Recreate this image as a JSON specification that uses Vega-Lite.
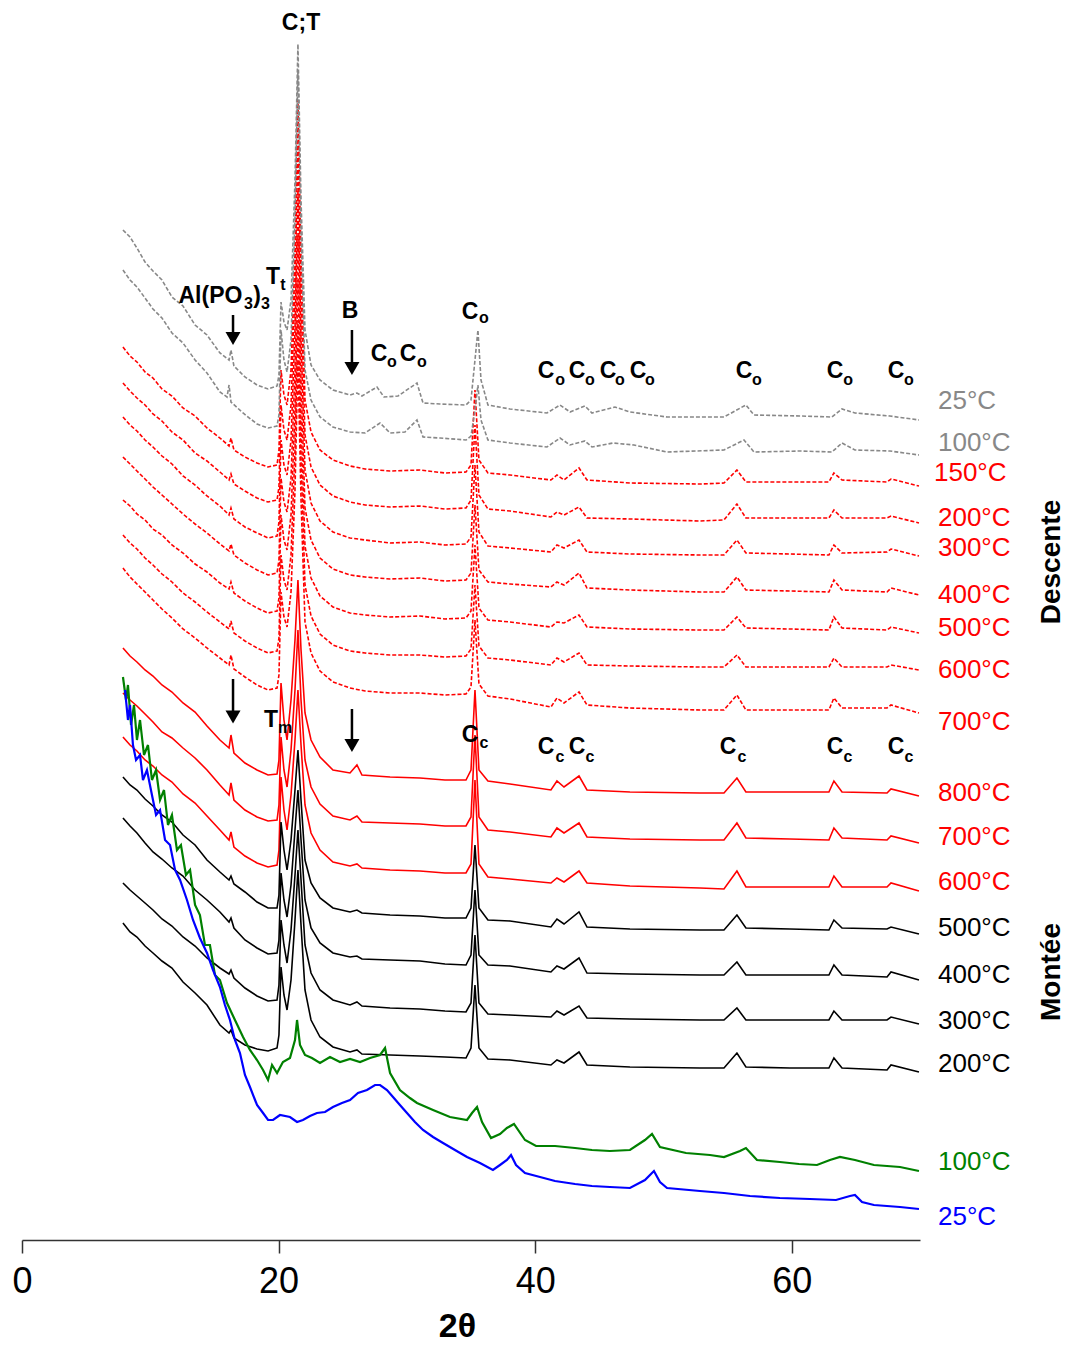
{
"$schema":"https://vega.github.io/schema/vega-lite/v6.json",
"width":898,"height":1240,
"autosize":{"type":"none"},
"padding":{"left":22,"top":0,"right":145,"bottom":107},
"config":{"view":{"stroke":null},"font":"Liberation Sans"},
"datasets":{
"curves":[
{"s":"D700","x":7.87,"y":672},{"s":"D700","x":8.42,"y":663},{"s":"D700","x":8.96,"y":656},{"s":"D700","x":9.59,"y":648},{"s":"D700","x":10.21,"y":640},{"s":"D700","x":10.91,"y":631},{"s":"D700","x":11.69,"y":622},{"s":"D700","x":12.55,"y":611},{"s":"D700","x":13.49,"y":602},{"s":"D700","x":14.42,"y":592},{"s":"D700","x":15.43,"y":582},{"s":"D700","x":16.14,"y":575},{"s":"D700","x":16.29,"y":585},{"s":"D700","x":16.52,"y":571},{"s":"D700","x":17.38,"y":563},{"s":"D700","x":18.32,"y":555},{"s":"D700","x":19.18,"y":550},{"s":"D700","x":19.88,"y":552},{"s":"D700","x":20.03,"y":565},{"s":"D700","x":20.19,"y":648},{"s":"D700","x":20.42,"y":623},{"s":"D700","x":20.66,"y":613},{"s":"D700","x":20.97,"y":648},{"s":"D700","x":21.28,"y":750},{"s":"D700","x":21.51,"y":880},{"s":"D700","x":21.75,"y":740},{"s":"D700","x":22.06,"y":618},{"s":"D700","x":22.53,"y":587},{"s":"D700","x":23.23,"y":569},{"s":"D700","x":24.24,"y":558},{"s":"D700","x":25.57,"y":552},{"s":"D700","x":26.74,"y":549},{"s":"D700","x":28.69,"y":547},{"s":"D700","x":31.02,"y":547},{"s":"D700","x":32.97,"y":545},{"s":"D700","x":34.61,"y":546},{"s":"D700","x":35.0,"y":553},{"s":"D700","x":35.31,"y":620},{"s":"D700","x":35.62,"y":556},{"s":"D700","x":36.32,"y":544},{"s":"D700","x":38.04,"y":541},{"s":"D700","x":41.23,"y":533},{"s":"D700","x":41.7,"y":542},{"s":"D700","x":42.25,"y":537},{"s":"D700","x":43.42,"y":548},{"s":"D700","x":44.04,"y":535},{"s":"D700","x":47.39,"y":532},{"s":"D700","x":52.85,"y":530},{"s":"D700","x":54.72,"y":530},{"s":"D700","x":55.73,"y":545},{"s":"D700","x":56.43,"y":530},{"s":"D700","x":59.86,"y":530},{"s":"D700","x":62.9,"y":530},{"s":"D700","x":63.29,"y":542},{"s":"D700","x":63.92,"y":532},{"s":"D700","x":67.43,"y":532},{"s":"D700","x":67.74,"y":535},{"s":"D700","x":69.92,"y":527},
{"s":"D600","x":7.87,"y":705},{"s":"D600","x":8.42,"y":697},{"s":"D600","x":8.96,"y":691},{"s":"D600","x":9.59,"y":682},{"s":"D600","x":10.21,"y":675},{"s":"D600","x":10.91,"y":666},{"s":"D600","x":11.69,"y":658},{"s":"D600","x":12.55,"y":647},{"s":"D600","x":13.49,"y":638},{"s":"D600","x":14.42,"y":628},{"s":"D600","x":15.43,"y":618},{"s":"D600","x":16.14,"y":611},{"s":"D600","x":16.29,"y":619},{"s":"D600","x":16.52,"y":607},{"s":"D600","x":17.38,"y":599},{"s":"D600","x":18.32,"y":592},{"s":"D600","x":19.18,"y":587},{"s":"D600","x":19.88,"y":589},{"s":"D600","x":20.03,"y":602},{"s":"D600","x":20.19,"y":685},{"s":"D600","x":20.42,"y":660},{"s":"D600","x":20.66,"y":650},{"s":"D600","x":20.97,"y":685},{"s":"D600","x":21.28,"y":790},{"s":"D600","x":21.51,"y":920},{"s":"D600","x":21.75,"y":780},{"s":"D600","x":22.06,"y":655},{"s":"D600","x":22.53,"y":624},{"s":"D600","x":23.23,"y":606},{"s":"D600","x":24.24,"y":595},{"s":"D600","x":25.57,"y":589},{"s":"D600","x":26.74,"y":587},{"s":"D600","x":28.69,"y":585},{"s":"D600","x":31.02,"y":585},{"s":"D600","x":32.97,"y":583},{"s":"D600","x":34.61,"y":584},{"s":"D600","x":35.0,"y":591},{"s":"D600","x":35.31,"y":655},{"s":"D600","x":35.62,"y":594},{"s":"D600","x":36.32,"y":582},{"s":"D600","x":38.04,"y":580},{"s":"D600","x":41.23,"y":575},{"s":"D600","x":41.7,"y":582},{"s":"D600","x":42.25,"y":578},{"s":"D600","x":43.42,"y":587},{"s":"D600","x":44.04,"y":575},{"s":"D600","x":47.39,"y":574},{"s":"D600","x":52.85,"y":573},{"s":"D600","x":54.72,"y":573},{"s":"D600","x":55.73,"y":585},{"s":"D600","x":56.43,"y":573},{"s":"D600","x":59.86,"y":573},{"s":"D600","x":62.9,"y":573},{"s":"D600","x":63.29,"y":582},{"s":"D600","x":63.92,"y":573},{"s":"D600","x":67.43,"y":573},{"s":"D600","x":67.74,"y":575},{"s":"D600","x":69.92,"y":570},
{"s":"D500","x":7.87,"y":740},{"s":"D500","x":8.42,"y":734},{"s":"D500","x":8.96,"y":726},{"s":"D500","x":9.59,"y":720},{"s":"D500","x":10.21,"y":711},{"s":"D500","x":10.91,"y":705},{"s":"D500","x":11.69,"y":695},{"s":"D500","x":12.55,"y":687},{"s":"D500","x":13.49,"y":676},{"s":"D500","x":14.42,"y":668},{"s":"D500","x":15.43,"y":657},{"s":"D500","x":16.14,"y":651},{"s":"D500","x":16.29,"y":658},{"s":"D500","x":16.52,"y":647},{"s":"D500","x":17.38,"y":639},{"s":"D500","x":18.32,"y":632},{"s":"D500","x":19.18,"y":627},{"s":"D500","x":19.88,"y":629},{"s":"D500","x":20.03,"y":642},{"s":"D500","x":20.19,"y":725},{"s":"D500","x":20.42,"y":700},{"s":"D500","x":20.66,"y":690},{"s":"D500","x":20.97,"y":725},{"s":"D500","x":21.28,"y":830},{"s":"D500","x":21.51,"y":960},{"s":"D500","x":21.75,"y":820},{"s":"D500","x":22.06,"y":694},{"s":"D500","x":22.53,"y":662},{"s":"D500","x":23.23,"y":644},{"s":"D500","x":24.24,"y":633},{"s":"D500","x":25.57,"y":627},{"s":"D500","x":26.74,"y":625},{"s":"D500","x":28.69,"y":623},{"s":"D500","x":31.02,"y":624},{"s":"D500","x":32.97,"y":621},{"s":"D500","x":34.61,"y":622},{"s":"D500","x":35.0,"y":629},{"s":"D500","x":35.31,"y":695},{"s":"D500","x":35.62,"y":632},{"s":"D500","x":36.32,"y":620},{"s":"D500","x":38.04,"y":618},{"s":"D500","x":41.23,"y":613},{"s":"D500","x":41.7,"y":618},{"s":"D500","x":42.25,"y":617},{"s":"D500","x":43.42,"y":625},{"s":"D500","x":44.04,"y":613},{"s":"D500","x":47.39,"y":611},{"s":"D500","x":52.85,"y":610},{"s":"D500","x":54.72,"y":610},{"s":"D500","x":55.73,"y":623},{"s":"D500","x":56.43,"y":612},{"s":"D500","x":59.86,"y":611},{"s":"D500","x":62.9,"y":610},{"s":"D500","x":63.29,"y":623},{"s":"D500","x":63.92,"y":612},{"s":"D500","x":67.43,"y":610},{"s":"D500","x":67.74,"y":613},{"s":"D500","x":69.92,"y":607},
{"s":"D400","x":7.87,"y":783},{"s":"D400","x":8.42,"y":776},{"s":"D400","x":8.96,"y":769},{"s":"D400","x":9.59,"y":761},{"s":"D400","x":10.21,"y":753},{"s":"D400","x":10.91,"y":745},{"s":"D400","x":11.69,"y":736},{"s":"D400","x":12.55,"y":726},{"s":"D400","x":13.49,"y":716},{"s":"D400","x":14.42,"y":707},{"s":"D400","x":15.43,"y":696},{"s":"D400","x":16.14,"y":689},{"s":"D400","x":16.29,"y":696},{"s":"D400","x":16.52,"y":685},{"s":"D400","x":17.38,"y":677},{"s":"D400","x":18.32,"y":670},{"s":"D400","x":19.18,"y":665},{"s":"D400","x":19.88,"y":667},{"s":"D400","x":20.03,"y":680},{"s":"D400","x":20.19,"y":762},{"s":"D400","x":20.42,"y":738},{"s":"D400","x":20.66,"y":728},{"s":"D400","x":20.97,"y":762},{"s":"D400","x":21.28,"y":870},{"s":"D400","x":21.51,"y":1005},{"s":"D400","x":21.75,"y":860},{"s":"D400","x":22.06,"y":732},{"s":"D400","x":22.53,"y":700},{"s":"D400","x":23.23,"y":682},{"s":"D400","x":24.24,"y":671},{"s":"D400","x":25.57,"y":665},{"s":"D400","x":26.74,"y":663},{"s":"D400","x":28.69,"y":661},{"s":"D400","x":31.02,"y":662},{"s":"D400","x":32.97,"y":659},{"s":"D400","x":34.61,"y":660},{"s":"D400","x":35.0,"y":667},{"s":"D400","x":35.31,"y":735},{"s":"D400","x":35.62,"y":670},{"s":"D400","x":36.32,"y":658},{"s":"D400","x":38.04,"y":656},{"s":"D400","x":41.23,"y":653},{"s":"D400","x":41.7,"y":658},{"s":"D400","x":42.25,"y":655},{"s":"D400","x":43.42,"y":667},{"s":"D400","x":44.04,"y":652},{"s":"D400","x":47.39,"y":650},{"s":"D400","x":52.85,"y":648},{"s":"D400","x":54.72,"y":648},{"s":"D400","x":55.73,"y":663},{"s":"D400","x":56.43,"y":650},{"s":"D400","x":59.86,"y":649},{"s":"D400","x":62.9,"y":648},{"s":"D400","x":63.29,"y":660},{"s":"D400","x":63.92,"y":650},{"s":"D400","x":67.43,"y":648},{"s":"D400","x":67.74,"y":652},{"s":"D400","x":69.92,"y":645},
{"s":"D300","x":7.87,"y":823},{"s":"D300","x":8.42,"y":815},{"s":"D300","x":8.96,"y":809},{"s":"D300","x":9.59,"y":800},{"s":"D300","x":10.21,"y":793},{"s":"D300","x":10.91,"y":784},{"s":"D300","x":11.69,"y":776},{"s":"D300","x":12.55,"y":764},{"s":"D300","x":13.49,"y":755},{"s":"D300","x":14.42,"y":744},{"s":"D300","x":15.43,"y":734},{"s":"D300","x":16.14,"y":725},{"s":"D300","x":16.29,"y":732},{"s":"D300","x":16.52,"y":721},{"s":"D300","x":17.38,"y":713},{"s":"D300","x":18.32,"y":707},{"s":"D300","x":19.18,"y":702},{"s":"D300","x":19.88,"y":704},{"s":"D300","x":20.03,"y":718},{"s":"D300","x":20.19,"y":800},{"s":"D300","x":20.42,"y":775},{"s":"D300","x":20.66,"y":765},{"s":"D300","x":20.97,"y":800},{"s":"D300","x":21.28,"y":910},{"s":"D300","x":21.51,"y":1050},{"s":"D300","x":21.75,"y":900},{"s":"D300","x":22.06,"y":770},{"s":"D300","x":22.53,"y":737},{"s":"D300","x":23.23,"y":719},{"s":"D300","x":24.24,"y":708},{"s":"D300","x":25.57,"y":702},{"s":"D300","x":26.74,"y":700},{"s":"D300","x":28.69,"y":697},{"s":"D300","x":31.02,"y":698},{"s":"D300","x":32.97,"y":695},{"s":"D300","x":34.61,"y":696},{"s":"D300","x":35.0,"y":703},{"s":"D300","x":35.31,"y":775},{"s":"D300","x":35.62,"y":708},{"s":"D300","x":36.32,"y":694},{"s":"D300","x":38.04,"y":692},{"s":"D300","x":41.23,"y":688},{"s":"D300","x":41.7,"y":695},{"s":"D300","x":42.25,"y":692},{"s":"D300","x":43.42,"y":700},{"s":"D300","x":44.04,"y":688},{"s":"D300","x":47.39,"y":686},{"s":"D300","x":52.85,"y":685},{"s":"D300","x":54.72,"y":685},{"s":"D300","x":55.73,"y":700},{"s":"D300","x":56.43,"y":687},{"s":"D300","x":59.86,"y":686},{"s":"D300","x":62.9,"y":685},{"s":"D300","x":63.29,"y":695},{"s":"D300","x":63.92,"y":687},{"s":"D300","x":67.43,"y":688},{"s":"D300","x":67.74,"y":691},{"s":"D300","x":69.92,"y":684},
{"s":"D200","x":7.87,"y":857},{"s":"D200","x":8.42,"y":849},{"s":"D200","x":8.96,"y":842},{"s":"D200","x":9.59,"y":835},{"s":"D200","x":10.21,"y":826},{"s":"D200","x":10.91,"y":819},{"s":"D200","x":11.69,"y":808},{"s":"D200","x":12.55,"y":800},{"s":"D200","x":13.49,"y":787},{"s":"D200","x":14.42,"y":779},{"s":"D200","x":15.43,"y":768},{"s":"D200","x":16.14,"y":760},{"s":"D200","x":16.29,"y":766},{"s":"D200","x":16.52,"y":756},{"s":"D200","x":17.38,"y":749},{"s":"D200","x":18.32,"y":742},{"s":"D200","x":19.18,"y":738},{"s":"D200","x":19.88,"y":740},{"s":"D200","x":20.03,"y":753},{"s":"D200","x":20.19,"y":835},{"s":"D200","x":20.42,"y":810},{"s":"D200","x":20.66,"y":800},{"s":"D200","x":20.97,"y":835},{"s":"D200","x":21.28,"y":950},{"s":"D200","x":21.51,"y":1095},{"s":"D200","x":21.75,"y":940},{"s":"D200","x":22.06,"y":805},{"s":"D200","x":22.53,"y":773},{"s":"D200","x":23.23,"y":755},{"s":"D200","x":24.24,"y":744},{"s":"D200","x":25.57,"y":738},{"s":"D200","x":26.74,"y":735},{"s":"D200","x":28.69,"y":733},{"s":"D200","x":31.02,"y":734},{"s":"D200","x":32.97,"y":731},{"s":"D200","x":34.61,"y":732},{"s":"D200","x":35.0,"y":740},{"s":"D200","x":35.31,"y":815},{"s":"D200","x":35.62,"y":745},{"s":"D200","x":36.32,"y":731},{"s":"D200","x":38.04,"y":729},{"s":"D200","x":41.23,"y":723},{"s":"D200","x":41.7,"y":728},{"s":"D200","x":42.25,"y":725},{"s":"D200","x":43.42,"y":733},{"s":"D200","x":44.04,"y":722},{"s":"D200","x":47.39,"y":721},{"s":"D200","x":52.85,"y":719},{"s":"D200","x":54.72,"y":720},{"s":"D200","x":55.73,"y":736},{"s":"D200","x":56.43,"y":722},{"s":"D200","x":59.86,"y":722},{"s":"D200","x":62.9,"y":722},{"s":"D200","x":63.29,"y":730},{"s":"D200","x":63.92,"y":722},{"s":"D200","x":67.43,"y":722},{"s":"D200","x":67.74,"y":724},{"s":"D200","x":69.92,"y":717},
{"s":"D150","x":7.87,"y":893},{"s":"D150","x":8.42,"y":884},{"s":"D150","x":8.96,"y":878},{"s":"D150","x":9.59,"y":868},{"s":"D150","x":10.21,"y":862},{"s":"D150","x":10.91,"y":851},{"s":"D150","x":11.69,"y":844},{"s":"D150","x":12.55,"y":832},{"s":"D150","x":13.49,"y":824},{"s":"D150","x":14.42,"y":812},{"s":"D150","x":15.43,"y":802},{"s":"D150","x":16.14,"y":794},{"s":"D150","x":16.29,"y":802},{"s":"D150","x":16.52,"y":790},{"s":"D150","x":17.38,"y":783},{"s":"D150","x":18.32,"y":777},{"s":"D150","x":19.18,"y":773},{"s":"D150","x":19.88,"y":775},{"s":"D150","x":20.03,"y":790},{"s":"D150","x":20.19,"y":870},{"s":"D150","x":20.42,"y":845},{"s":"D150","x":20.66,"y":835},{"s":"D150","x":20.97,"y":870},{"s":"D150","x":21.28,"y":990},{"s":"D150","x":21.51,"y":1140},{"s":"D150","x":21.75,"y":980},{"s":"D150","x":22.06,"y":840},{"s":"D150","x":22.53,"y":808},{"s":"D150","x":23.23,"y":790},{"s":"D150","x":24.24,"y":780},{"s":"D150","x":25.57,"y":774},{"s":"D150","x":26.74,"y":771},{"s":"D150","x":28.69,"y":769},{"s":"D150","x":31.02,"y":770},{"s":"D150","x":32.97,"y":767},{"s":"D150","x":34.61,"y":768},{"s":"D150","x":35.0,"y":775},{"s":"D150","x":35.31,"y":850},{"s":"D150","x":35.62,"y":780},{"s":"D150","x":36.32,"y":767},{"s":"D150","x":38.04,"y":765},{"s":"D150","x":41.23,"y":760},{"s":"D150","x":41.7,"y":765},{"s":"D150","x":42.25,"y":760},{"s":"D150","x":43.42,"y":772},{"s":"D150","x":44.04,"y":760},{"s":"D150","x":47.39,"y":757},{"s":"D150","x":52.85,"y":756},{"s":"D150","x":54.72,"y":757},{"s":"D150","x":55.73,"y":770},{"s":"D150","x":56.43,"y":758},{"s":"D150","x":59.86,"y":758},{"s":"D150","x":62.9,"y":758},{"s":"D150","x":63.29,"y":767},{"s":"D150","x":63.92,"y":760},{"s":"D150","x":67.43,"y":758},{"s":"D150","x":67.74,"y":761},{"s":"D150","x":69.92,"y":754},
{"s":"D100","x":7.87,"y":970},{"s":"D100","x":8.42,"y":960},{"s":"D100","x":8.96,"y":953},{"s":"D100","x":9.59,"y":942},{"s":"D100","x":10.21,"y":931},{"s":"D100","x":10.91,"y":922},{"s":"D100","x":11.69,"y":907},{"s":"D100","x":12.55,"y":897},{"s":"D100","x":13.49,"y":880},{"s":"D100","x":14.42,"y":867},{"s":"D100","x":15.43,"y":848},{"s":"D100","x":15.98,"y":843},{"s":"D100","x":16.14,"y":855},{"s":"D100","x":16.29,"y":838},{"s":"D100","x":17.23,"y":827},{"s":"D100","x":18.32,"y":816},{"s":"D100","x":19.18,"y":812},{"s":"D100","x":19.88,"y":814},{"s":"D100","x":20.03,"y":825},{"s":"D100","x":20.19,"y":910},{"s":"D100","x":20.42,"y":880},{"s":"D100","x":20.66,"y":868},{"s":"D100","x":20.97,"y":900},{"s":"D100","x":21.28,"y":1020},{"s":"D100","x":21.51,"y":1170},{"s":"D100","x":21.75,"y":1010},{"s":"D100","x":22.06,"y":870},{"s":"D100","x":22.53,"y":840},{"s":"D100","x":23.23,"y":823},{"s":"D100","x":24.24,"y":813},{"s":"D100","x":25.57,"y":808},{"s":"D100","x":26.74,"y":807},{"s":"D100","x":27.91,"y":817},{"s":"D100","x":28.69,"y":807},{"s":"D100","x":29.85,"y":808},{"s":"D100","x":30.79,"y":820},{"s":"D100","x":31.26,"y":803},{"s":"D100","x":32.58,"y":802},{"s":"D100","x":34.61,"y":800},{"s":"D100","x":35.0,"y":804},{"s":"D100","x":35.31,"y":830},{"s":"D100","x":35.54,"y":855},{"s":"D100","x":35.78,"y":820},{"s":"D100","x":36.32,"y":800},{"s":"D100","x":38.04,"y":797},{"s":"D100","x":40.92,"y":793},{"s":"D100","x":41.94,"y":802},{"s":"D100","x":42.72,"y":795},{"s":"D100","x":43.88,"y":799},{"s":"D100","x":44.43,"y":793},{"s":"D100","x":46.07,"y":797},{"s":"D100","x":47.7,"y":795},{"s":"D100","x":50.28,"y":788},{"s":"D100","x":54.72,"y":790},{"s":"D100","x":56.28,"y":800},{"s":"D100","x":57.06,"y":788},{"s":"D100","x":60.64,"y":789},{"s":"D100","x":63.14,"y":788},{"s":"D100","x":63.92,"y":797},{"s":"D100","x":64.93,"y":790},{"s":"D100","x":67.66,"y":789},{"s":"D100","x":69.92,"y":785},
{"s":"D25","x":7.87,"y":1010},{"s":"D25","x":8.42,"y":1003},{"s":"D25","x":8.96,"y":992},{"s":"D25","x":9.59,"y":978},{"s":"D25","x":10.21,"y":969},{"s":"D25","x":10.91,"y":960},{"s":"D25","x":11.69,"y":943},{"s":"D25","x":12.55,"y":934},{"s":"D25","x":13.49,"y":915},{"s":"D25","x":14.42,"y":905},{"s":"D25","x":15.43,"y":887},{"s":"D25","x":16.14,"y":880},{"s":"D25","x":16.29,"y":890},{"s":"D25","x":16.52,"y":874},{"s":"D25","x":17.38,"y":863},{"s":"D25","x":18.32,"y":855},{"s":"D25","x":19.18,"y":851},{"s":"D25","x":19.88,"y":854},{"s":"D25","x":20.03,"y":865},{"s":"D25","x":20.19,"y":938},{"s":"D25","x":20.42,"y":918},{"s":"D25","x":20.66,"y":910},{"s":"D25","x":20.97,"y":940},{"s":"D25","x":21.28,"y":1060},{"s":"D25","x":21.51,"y":1196},{"s":"D25","x":21.75,"y":1040},{"s":"D25","x":22.06,"y":910},{"s":"D25","x":22.53,"y":875},{"s":"D25","x":23.23,"y":860},{"s":"D25","x":24.24,"y":850},{"s":"D25","x":25.57,"y":845},{"s":"D25","x":26.11,"y":847},{"s":"D25","x":26.5,"y":844},{"s":"D25","x":27.67,"y":853},{"s":"D25","x":28.22,"y":843},{"s":"D25","x":29.31,"y":844},{"s":"D25","x":30.79,"y":857},{"s":"D25","x":31.26,"y":837},{"s":"D25","x":32.58,"y":836},{"s":"D25","x":34.61,"y":835},{"s":"D25","x":35.0,"y":840},{"s":"D25","x":35.31,"y":880},{"s":"D25","x":35.54,"y":910},{"s":"D25","x":35.78,"y":860},{"s":"D25","x":36.32,"y":835},{"s":"D25","x":38.04,"y":831},{"s":"D25","x":40.92,"y":827},{"s":"D25","x":41.94,"y":835},{"s":"D25","x":42.72,"y":828},{"s":"D25","x":43.88,"y":834},{"s":"D25","x":44.43,"y":827},{"s":"D25","x":46.22,"y":833},{"s":"D25","x":47.39,"y":828},{"s":"D25","x":50.28,"y":823},{"s":"D25","x":54.72,"y":823},{"s":"D25","x":56.43,"y":835},{"s":"D25","x":57.06,"y":825},{"s":"D25","x":60.64,"y":824},{"s":"D25","x":63.14,"y":823},{"s":"D25","x":63.92,"y":831},{"s":"D25","x":64.93,"y":827},{"s":"D25","x":67.66,"y":824},{"s":"D25","x":69.92,"y":820},
{"s":"M800","x":7.87,"y":592},{"s":"M800","x":8.42,"y":584},{"s":"M800","x":8.96,"y":578},{"s":"M800","x":9.59,"y":570},{"s":"M800","x":10.21,"y":564},{"s":"M800","x":10.91,"y":555},{"s":"M800","x":11.69,"y":548},{"s":"M800","x":12.55,"y":537},{"s":"M800","x":13.49,"y":528},{"s":"M800","x":14.42,"y":514},{"s":"M800","x":15.43,"y":500},{"s":"M800","x":16.14,"y":492},{"s":"M800","x":16.29,"y":505},{"s":"M800","x":16.52,"y":487},{"s":"M800","x":17.38,"y":477},{"s":"M800","x":18.32,"y":470},{"s":"M800","x":19.18,"y":465},{"s":"M800","x":19.88,"y":466},{"s":"M800","x":20.03,"y":480},{"s":"M800","x":20.19,"y":557},{"s":"M800","x":20.42,"y":520},{"s":"M800","x":20.66,"y":500},{"s":"M800","x":20.97,"y":540},{"s":"M800","x":21.28,"y":600},{"s":"M800","x":21.51,"y":660},{"s":"M800","x":21.75,"y":590},{"s":"M800","x":22.06,"y":527},{"s":"M800","x":22.53,"y":500},{"s":"M800","x":23.23,"y":483},{"s":"M800","x":24.24,"y":470},{"s":"M800","x":25.57,"y":467},{"s":"M800","x":26.11,"y":475},{"s":"M800","x":26.5,"y":465},{"s":"M800","x":28.69,"y":463},{"s":"M800","x":31.02,"y":462},{"s":"M800","x":32.97,"y":460},{"s":"M800","x":34.61,"y":460},{"s":"M800","x":35.0,"y":470},{"s":"M800","x":35.31,"y":550},{"s":"M800","x":35.62,"y":470},{"s":"M800","x":36.32,"y":459},{"s":"M800","x":38.04,"y":456},{"s":"M800","x":41.23,"y":450},{"s":"M800","x":41.7,"y":459},{"s":"M800","x":42.25,"y":453},{"s":"M800","x":43.42,"y":464},{"s":"M800","x":44.04,"y":450},{"s":"M800","x":47.39,"y":448},{"s":"M800","x":52.85,"y":447},{"s":"M800","x":54.72,"y":447},{"s":"M800","x":55.73,"y":462},{"s":"M800","x":56.43,"y":448},{"s":"M800","x":59.86,"y":448},{"s":"M800","x":62.9,"y":448},{"s":"M800","x":63.29,"y":459},{"s":"M800","x":63.92,"y":448},{"s":"M800","x":67.43,"y":447},{"s":"M800","x":67.74,"y":451},{"s":"M800","x":69.92,"y":444},
{"s":"M700","x":7.87,"y":547},{"s":"M700","x":8.42,"y":540},{"s":"M700","x":8.96,"y":534},{"s":"M700","x":9.59,"y":526},{"s":"M700","x":10.21,"y":518},{"s":"M700","x":10.91,"y":508},{"s":"M700","x":11.69,"y":502},{"s":"M700","x":12.55,"y":492},{"s":"M700","x":13.49,"y":482},{"s":"M700","x":14.42,"y":470},{"s":"M700","x":15.43,"y":455},{"s":"M700","x":16.14,"y":445},{"s":"M700","x":16.29,"y":457},{"s":"M700","x":16.52,"y":440},{"s":"M700","x":17.38,"y":430},{"s":"M700","x":18.32,"y":423},{"s":"M700","x":19.18,"y":419},{"s":"M700","x":19.88,"y":420},{"s":"M700","x":20.03,"y":435},{"s":"M700","x":20.19,"y":503},{"s":"M700","x":20.42,"y":470},{"s":"M700","x":20.66,"y":453},{"s":"M700","x":20.97,"y":490},{"s":"M700","x":21.28,"y":550},{"s":"M700","x":21.51,"y":610},{"s":"M700","x":21.75,"y":540},{"s":"M700","x":22.06,"y":480},{"s":"M700","x":22.53,"y":453},{"s":"M700","x":23.23,"y":436},{"s":"M700","x":24.24,"y":424},{"s":"M700","x":25.57,"y":420},{"s":"M700","x":26.11,"y":424},{"s":"M700","x":26.5,"y":418},{"s":"M700","x":28.69,"y":417},{"s":"M700","x":31.02,"y":416},{"s":"M700","x":32.97,"y":414},{"s":"M700","x":34.61,"y":414},{"s":"M700","x":35.0,"y":423},{"s":"M700","x":35.31,"y":505},{"s":"M700","x":35.62,"y":423},{"s":"M700","x":36.32,"y":410},{"s":"M700","x":38.04,"y":408},{"s":"M700","x":41.23,"y":403},{"s":"M700","x":41.7,"y":412},{"s":"M700","x":42.25,"y":407},{"s":"M700","x":43.42,"y":417},{"s":"M700","x":44.04,"y":403},{"s":"M700","x":47.39,"y":401},{"s":"M700","x":52.85,"y":400},{"s":"M700","x":54.72,"y":400},{"s":"M700","x":55.73,"y":417},{"s":"M700","x":56.43,"y":402},{"s":"M700","x":59.86,"y":401},{"s":"M700","x":62.9,"y":400},{"s":"M700","x":63.29,"y":412},{"s":"M700","x":63.92,"y":402},{"s":"M700","x":67.43,"y":400},{"s":"M700","x":67.74,"y":404},{"s":"M700","x":69.92,"y":397},
{"s":"M600","x":7.87,"y":503},{"s":"M600","x":8.42,"y":495},{"s":"M600","x":8.96,"y":489},{"s":"M600","x":9.59,"y":480},{"s":"M600","x":10.21,"y":474},{"s":"M600","x":10.91,"y":465},{"s":"M600","x":11.69,"y":458},{"s":"M600","x":12.55,"y":446},{"s":"M600","x":13.49,"y":437},{"s":"M600","x":14.42,"y":424},{"s":"M600","x":15.43,"y":410},{"s":"M600","x":16.14,"y":400},{"s":"M600","x":16.29,"y":408},{"s":"M600","x":16.52,"y":393},{"s":"M600","x":17.38,"y":384},{"s":"M600","x":18.32,"y":377},{"s":"M600","x":19.18,"y":373},{"s":"M600","x":19.88,"y":375},{"s":"M600","x":20.03,"y":390},{"s":"M600","x":20.19,"y":463},{"s":"M600","x":20.42,"y":430},{"s":"M600","x":20.66,"y":410},{"s":"M600","x":20.97,"y":445},{"s":"M600","x":21.28,"y":500},{"s":"M600","x":21.51,"y":550},{"s":"M600","x":21.75,"y":495},{"s":"M600","x":22.06,"y":435},{"s":"M600","x":22.53,"y":407},{"s":"M600","x":23.23,"y":390},{"s":"M600","x":24.24,"y":378},{"s":"M600","x":25.57,"y":374},{"s":"M600","x":26.11,"y":376},{"s":"M600","x":26.5,"y":372},{"s":"M600","x":28.69,"y":370},{"s":"M600","x":31.02,"y":369},{"s":"M600","x":32.97,"y":367},{"s":"M600","x":34.61,"y":367},{"s":"M600","x":35.0,"y":376},{"s":"M600","x":35.31,"y":460},{"s":"M600","x":35.62,"y":376},{"s":"M600","x":36.32,"y":363},{"s":"M600","x":38.04,"y":361},{"s":"M600","x":41.23,"y":357},{"s":"M600","x":41.7,"y":362},{"s":"M600","x":42.25,"y":358},{"s":"M600","x":43.42,"y":369},{"s":"M600","x":44.04,"y":357},{"s":"M600","x":47.39,"y":354},{"s":"M600","x":52.85,"y":352},{"s":"M600","x":54.72,"y":351},{"s":"M600","x":55.73,"y":369},{"s":"M600","x":56.43,"y":353},{"s":"M600","x":59.86,"y":353},{"s":"M600","x":62.9,"y":353},{"s":"M600","x":63.29,"y":364},{"s":"M600","x":63.92,"y":353},{"s":"M600","x":67.43,"y":353},{"s":"M600","x":67.74,"y":357},{"s":"M600","x":69.92,"y":349},
{"s":"M500","x":7.87,"y":463},{"s":"M500","x":8.42,"y":455},{"s":"M500","x":8.96,"y":450},{"s":"M500","x":9.59,"y":441},{"s":"M500","x":10.21,"y":434},{"s":"M500","x":10.91,"y":425},{"s":"M500","x":11.69,"y":418},{"s":"M500","x":12.55,"y":405},{"s":"M500","x":13.49,"y":395},{"s":"M500","x":14.42,"y":380},{"s":"M500","x":15.43,"y":368},{"s":"M500","x":16.14,"y":360},{"s":"M500","x":16.29,"y":364},{"s":"M500","x":16.52,"y":356},{"s":"M500","x":17.38,"y":348},{"s":"M500","x":18.32,"y":338},{"s":"M500","x":19.18,"y":332},{"s":"M500","x":19.88,"y":332},{"s":"M500","x":20.03,"y":345},{"s":"M500","x":20.19,"y":418},{"s":"M500","x":20.42,"y":390},{"s":"M500","x":20.66,"y":370},{"s":"M500","x":20.97,"y":400},{"s":"M500","x":21.28,"y":450},{"s":"M500","x":21.51,"y":490},{"s":"M500","x":21.75,"y":440},{"s":"M500","x":22.06,"y":380},{"s":"M500","x":22.53,"y":357},{"s":"M500","x":23.23,"y":342},{"s":"M500","x":24.24,"y":332},{"s":"M500","x":25.57,"y":328},{"s":"M500","x":26.11,"y":330},{"s":"M500","x":26.5,"y":327},{"s":"M500","x":28.69,"y":325},{"s":"M500","x":31.02,"y":324},{"s":"M500","x":32.97,"y":322},{"s":"M500","x":34.61,"y":322},{"s":"M500","x":35.0,"y":332},{"s":"M500","x":35.31,"y":395},{"s":"M500","x":35.62,"y":332},{"s":"M500","x":36.32,"y":320},{"s":"M500","x":38.04,"y":319},{"s":"M500","x":41.23,"y":313},{"s":"M500","x":41.7,"y":321},{"s":"M500","x":42.25,"y":316},{"s":"M500","x":43.42,"y":328},{"s":"M500","x":44.04,"y":313},{"s":"M500","x":47.39,"y":311},{"s":"M500","x":52.85,"y":310},{"s":"M500","x":54.72,"y":310},{"s":"M500","x":55.73,"y":325},{"s":"M500","x":56.43,"y":312},{"s":"M500","x":59.86,"y":311},{"s":"M500","x":62.9,"y":310},{"s":"M500","x":63.29,"y":320},{"s":"M500","x":63.92,"y":312},{"s":"M500","x":67.43,"y":311},{"s":"M500","x":67.74,"y":313},{"s":"M500","x":69.92,"y":306},
{"s":"M400","x":7.87,"y":422},{"s":"M400","x":8.42,"y":414},{"s":"M400","x":8.96,"y":407},{"s":"M400","x":9.59,"y":397},{"s":"M400","x":10.21,"y":388},{"s":"M400","x":10.91,"y":381},{"s":"M400","x":11.69,"y":372},{"s":"M400","x":12.55,"y":364},{"s":"M400","x":13.49,"y":350},{"s":"M400","x":14.42,"y":340},{"s":"M400","x":15.43,"y":328},{"s":"M400","x":16.14,"y":318},{"s":"M400","x":16.29,"y":322},{"s":"M400","x":16.52,"y":312},{"s":"M400","x":17.38,"y":300},{"s":"M400","x":18.32,"y":292},{"s":"M400","x":19.18,"y":286},{"s":"M400","x":19.88,"y":287},{"s":"M400","x":20.03,"y":300},{"s":"M400","x":20.19,"y":367},{"s":"M400","x":20.42,"y":340},{"s":"M400","x":20.66,"y":323},{"s":"M400","x":20.97,"y":355},{"s":"M400","x":21.28,"y":410},{"s":"M400","x":21.51,"y":450},{"s":"M400","x":21.75,"y":400},{"s":"M400","x":22.06,"y":340},{"s":"M400","x":22.53,"y":312},{"s":"M400","x":23.23,"y":297},{"s":"M400","x":24.24,"y":287},{"s":"M400","x":25.57,"y":283},{"s":"M400","x":26.11,"y":284},{"s":"M400","x":26.5,"y":281},{"s":"M400","x":28.69,"y":280},{"s":"M400","x":31.02,"y":279},{"s":"M400","x":32.97,"y":276},{"s":"M400","x":34.61,"y":275},{"s":"M400","x":35.0,"y":285},{"s":"M400","x":35.31,"y":350},{"s":"M400","x":35.62,"y":285},{"s":"M400","x":36.32,"y":275},{"s":"M400","x":38.04,"y":274},{"s":"M400","x":41.23,"y":268},{"s":"M400","x":41.7,"y":274},{"s":"M400","x":42.25,"y":271},{"s":"M400","x":43.42,"y":282},{"s":"M400","x":44.04,"y":267},{"s":"M400","x":47.39,"y":266},{"s":"M400","x":52.85,"y":265},{"s":"M400","x":54.72,"y":265},{"s":"M400","x":55.73,"y":278},{"s":"M400","x":56.43,"y":265},{"s":"M400","x":59.86,"y":265},{"s":"M400","x":62.9,"y":265},{"s":"M400","x":63.29,"y":275},{"s":"M400","x":63.92,"y":265},{"s":"M400","x":67.43,"y":263},{"s":"M400","x":67.74,"y":268},{"s":"M400","x":69.92,"y":260},
{"s":"M300","x":7.87,"y":357},{"s":"M300","x":8.42,"y":350},{"s":"M300","x":8.96,"y":344},{"s":"M300","x":9.59,"y":337},{"s":"M300","x":10.21,"y":330},{"s":"M300","x":10.91,"y":321},{"s":"M300","x":11.69,"y":314},{"s":"M300","x":12.55,"y":303},{"s":"M300","x":13.49,"y":294},{"s":"M300","x":14.42,"y":282},{"s":"M300","x":15.43,"y":272},{"s":"M300","x":16.14,"y":266},{"s":"M300","x":16.29,"y":270},{"s":"M300","x":16.52,"y":262},{"s":"M300","x":17.38,"y":252},{"s":"M300","x":18.32,"y":244},{"s":"M300","x":19.18,"y":239},{"s":"M300","x":19.88,"y":240},{"s":"M300","x":20.03,"y":255},{"s":"M300","x":20.19,"y":320},{"s":"M300","x":20.42,"y":295},{"s":"M300","x":20.66,"y":277},{"s":"M300","x":20.97,"y":310},{"s":"M300","x":21.28,"y":365},{"s":"M300","x":21.51,"y":410},{"s":"M300","x":21.75,"y":360},{"s":"M300","x":22.06,"y":295},{"s":"M300","x":22.53,"y":267},{"s":"M300","x":23.23,"y":250},{"s":"M300","x":24.24,"y":240},{"s":"M300","x":25.57,"y":235},{"s":"M300","x":26.11,"y":238},{"s":"M300","x":26.5,"y":234},{"s":"M300","x":28.69,"y":232},{"s":"M300","x":31.02,"y":231},{"s":"M300","x":32.97,"y":229},{"s":"M300","x":34.61,"y":228},{"s":"M300","x":35.0,"y":237},{"s":"M300","x":35.31,"y":305},{"s":"M300","x":35.62,"y":237},{"s":"M300","x":36.32,"y":226},{"s":"M300","x":38.04,"y":225},{"s":"M300","x":41.23,"y":223},{"s":"M300","x":41.7,"y":229},{"s":"M300","x":42.25,"y":225},{"s":"M300","x":43.42,"y":234},{"s":"M300","x":44.04,"y":222},{"s":"M300","x":47.39,"y":221},{"s":"M300","x":52.85,"y":220},{"s":"M300","x":54.72,"y":220},{"s":"M300","x":55.73,"y":232},{"s":"M300","x":56.43,"y":220},{"s":"M300","x":59.86,"y":220},{"s":"M300","x":62.9,"y":220},{"s":"M300","x":63.29,"y":229},{"s":"M300","x":63.92,"y":220},{"s":"M300","x":67.43,"y":220},{"s":"M300","x":67.74,"y":223},{"s":"M300","x":69.92,"y":216},
{"s":"M200","x":7.87,"y":317},{"s":"M200","x":8.42,"y":308},{"s":"M200","x":8.96,"y":303},{"s":"M200","x":9.59,"y":294},{"s":"M200","x":10.21,"y":287},{"s":"M200","x":10.91,"y":279},{"s":"M200","x":11.69,"y":272},{"s":"M200","x":12.55,"y":258},{"s":"M200","x":13.49,"y":247},{"s":"M200","x":14.42,"y":235},{"s":"M200","x":15.43,"y":215},{"s":"M200","x":16.14,"y":207},{"s":"M200","x":16.29,"y":210},{"s":"M200","x":16.52,"y":202},{"s":"M200","x":17.38,"y":195},{"s":"M200","x":18.32,"y":191},{"s":"M200","x":19.18,"y":189},{"s":"M200","x":19.88,"y":192},{"s":"M200","x":20.03,"y":205},{"s":"M200","x":20.19,"y":273},{"s":"M200","x":20.42,"y":245},{"s":"M200","x":20.66,"y":230},{"s":"M200","x":20.97,"y":260},{"s":"M200","x":21.28,"y":320},{"s":"M200","x":21.51,"y":370},{"s":"M200","x":21.75,"y":315},{"s":"M200","x":22.06,"y":250},{"s":"M200","x":22.53,"y":220},{"s":"M200","x":23.23,"y":203},{"s":"M200","x":24.24,"y":193},{"s":"M200","x":25.57,"y":188},{"s":"M200","x":26.11,"y":190},{"s":"M200","x":26.5,"y":186},{"s":"M200","x":28.69,"y":185},{"s":"M200","x":31.02,"y":184},{"s":"M200","x":32.97,"y":183},{"s":"M200","x":34.61,"y":182},{"s":"M200","x":35.0,"y":192},{"s":"M200","x":35.31,"y":255},{"s":"M200","x":35.62,"y":192},{"s":"M200","x":36.32,"y":181},{"s":"M200","x":38.04,"y":180},{"s":"M200","x":41.23,"y":175},{"s":"M200","x":41.7,"y":180},{"s":"M200","x":42.25,"y":177},{"s":"M200","x":43.42,"y":188},{"s":"M200","x":44.04,"y":175},{"s":"M200","x":47.39,"y":173},{"s":"M200","x":52.85,"y":172},{"s":"M200","x":54.72,"y":172},{"s":"M200","x":55.73,"y":187},{"s":"M200","x":56.43,"y":173},{"s":"M200","x":59.86,"y":172},{"s":"M200","x":62.9,"y":172},{"s":"M200","x":63.29,"y":182},{"s":"M200","x":63.92,"y":172},{"s":"M200","x":67.43,"y":170},{"s":"M200","x":67.74,"y":175},{"s":"M200","x":69.92,"y":168},
{"s":"M100","x":7.87,"y":563},{"s":"M100","x":8.11,"y":540},{"s":"M100","x":8.26,"y":555},{"s":"M100","x":8.5,"y":515},{"s":"M100","x":8.73,"y":535},{"s":"M100","x":8.96,"y":500},{"s":"M100","x":9.2,"y":520},{"s":"M100","x":9.51,"y":485},{"s":"M100","x":9.82,"y":495},{"s":"M100","x":10.13,"y":460},{"s":"M100","x":10.45,"y":470},{"s":"M100","x":10.76,"y":440},{"s":"M100","x":11.07,"y":450},{"s":"M100","x":11.38,"y":415},{"s":"M100","x":11.69,"y":425},{"s":"M100","x":12.08,"y":390},{"s":"M100","x":12.39,"y":395},{"s":"M100","x":12.78,"y":365},{"s":"M100","x":13.1,"y":370},{"s":"M100","x":13.49,"y":335},{"s":"M100","x":13.87,"y":325},{"s":"M100","x":14.26,"y":295},{"s":"M100","x":14.65,"y":295},{"s":"M100","x":15.04,"y":265},{"s":"M100","x":15.43,"y":260},{"s":"M100","x":15.98,"y":237},{"s":"M100","x":16.6,"y":220},{"s":"M100","x":17.23,"y":203},{"s":"M100","x":17.77,"y":190},{"s":"M100","x":18.32,"y":180},{"s":"M100","x":18.79,"y":170},{"s":"M100","x":19.18,"y":160},{"s":"M100","x":19.49,"y":175},{"s":"M100","x":19.88,"y":167},{"s":"M100","x":20.34,"y":178},{"s":"M100","x":20.89,"y":182},{"s":"M100","x":21.28,"y":200},{"s":"M100","x":21.44,"y":220},{"s":"M100","x":21.67,"y":195},{"s":"M100","x":22.06,"y":185},{"s":"M100","x":22.6,"y":182},{"s":"M100","x":23.23,"y":177},{"s":"M100","x":24.01,"y":183},{"s":"M100","x":24.79,"y":178},{"s":"M100","x":25.57,"y":181},{"s":"M100","x":26.35,"y":178},{"s":"M100","x":27.13,"y":182},{"s":"M100","x":27.91,"y":185},{"s":"M100","x":28.3,"y":192},{"s":"M100","x":28.69,"y":167},{"s":"M100","x":29.46,"y":150},{"s":"M100","x":30.24,"y":142},{"s":"M100","x":30.79,"y":137},{"s":"M100","x":32.04,"y":130},{"s":"M100","x":33.36,"y":123},{"s":"M100","x":34.69,"y":120},{"s":"M100","x":35.08,"y":127},{"s":"M100","x":35.47,"y":133},{"s":"M100","x":35.86,"y":118},{"s":"M100","x":36.56,"y":102},{"s":"M100","x":37.26,"y":106},{"s":"M100","x":37.8,"y":112},{"s":"M100","x":38.35,"y":116},{"s":"M100","x":39.21,"y":100},{"s":"M100","x":40.07,"y":94},{"s":"M100","x":41.55,"y":94},{"s":"M100","x":43.11,"y":92},{"s":"M100","x":44.43,"y":90},{"s":"M100","x":45.83,"y":89},{"s":"M100","x":47.39,"y":90},{"s":"M100","x":48.56,"y":100},{"s":"M100","x":49.11,"y":106},{"s":"M100","x":49.73,"y":93},{"s":"M100","x":51.76,"y":87},{"s":"M100","x":53.63,"y":85},{"s":"M100","x":54.72,"y":83},{"s":"M100","x":55.97,"y":89},{"s":"M100","x":56.43,"y":92},{"s":"M100","x":57.29,"y":80},{"s":"M100","x":59.08,"y":78},{"s":"M100","x":60.57,"y":76},{"s":"M100","x":61.97,"y":75},{"s":"M100","x":62.98,"y":80},{"s":"M100","x":63.76,"y":83},{"s":"M100","x":64.93,"y":80},{"s":"M100","x":66.41,"y":75},{"s":"M100","x":68.44,"y":73},{"s":"M100","x":69.92,"y":69},
{"s":"M25","x":8.03,"y":550},{"s":"M25","x":8.26,"y":520},{"s":"M25","x":8.42,"y":535},{"s":"M25","x":8.65,"y":495},{"s":"M25","x":8.89,"y":480},{"s":"M25","x":9.2,"y":485},{"s":"M25","x":9.43,"y":460},{"s":"M25","x":9.74,"y":470},{"s":"M25","x":10.13,"y":445},{"s":"M25","x":10.45,"y":425},{"s":"M25","x":10.76,"y":430},{"s":"M25","x":11.15,"y":400},{"s":"M25","x":11.54,"y":395},{"s":"M25","x":11.93,"y":370},{"s":"M25","x":12.32,"y":360},{"s":"M25","x":12.86,"y":340},{"s":"M25","x":13.33,"y":320},{"s":"M25","x":13.87,"y":302},{"s":"M25","x":14.42,"y":287},{"s":"M25","x":14.89,"y":270},{"s":"M25","x":15.43,"y":253},{"s":"M25","x":15.82,"y":235},{"s":"M25","x":16.21,"y":220},{"s":"M25","x":16.6,"y":200},{"s":"M25","x":16.99,"y":187},{"s":"M25","x":17.38,"y":165},{"s":"M25","x":17.77,"y":153},{"s":"M25","x":18.32,"y":135},{"s":"M25","x":18.79,"y":127},{"s":"M25","x":19.18,"y":120},{"s":"M25","x":19.57,"y":120},{"s":"M25","x":20.11,"y":125},{"s":"M25","x":20.89,"y":123},{"s":"M25","x":21.44,"y":118},{"s":"M25","x":21.9,"y":120},{"s":"M25","x":22.45,"y":124},{"s":"M25","x":22.99,"y":127},{"s":"M25","x":23.62,"y":128},{"s":"M25","x":24.24,"y":133},{"s":"M25","x":24.94,"y":137},{"s":"M25","x":25.57,"y":140},{"s":"M25","x":26.19,"y":147},{"s":"M25","x":26.89,"y":150},{"s":"M25","x":27.52,"y":155},{"s":"M25","x":27.91,"y":155},{"s":"M25","x":28.45,"y":150},{"s":"M25","x":28.92,"y":143},{"s":"M25","x":29.46,"y":135},{"s":"M25","x":30.01,"y":127},{"s":"M25","x":30.63,"y":118},{"s":"M25","x":31.26,"y":110},{"s":"M25","x":32.04,"y":103},{"s":"M25","x":32.82,"y":97},{"s":"M25","x":33.75,"y":90},{"s":"M25","x":34.69,"y":83},{"s":"M25","x":35.7,"y":77},{"s":"M25","x":36.71,"y":70},{"s":"M25","x":37.26,"y":75},{"s":"M25","x":37.8,"y":80},{"s":"M25","x":38.12,"y":85},{"s":"M25","x":38.51,"y":75},{"s":"M25","x":39.21,"y":67},{"s":"M25","x":40.38,"y":63},{"s":"M25","x":41.55,"y":59},{"s":"M25","x":43.11,"y":56},{"s":"M25","x":44.43,"y":54},{"s":"M25","x":45.83,"y":53},{"s":"M25","x":47.39,"y":52},{"s":"M25","x":48.56,"y":60},{"s":"M25","x":49.26,"y":69},{"s":"M25","x":49.73,"y":58},{"s":"M25","x":50.28,"y":52},{"s":"M25","x":52.85,"y":49},{"s":"M25","x":54.72,"y":47},{"s":"M25","x":56.75,"y":44},{"s":"M25","x":59.08,"y":42},{"s":"M25","x":61.42,"y":41},{"s":"M25","x":63.45,"y":40},{"s":"M25","x":64.54,"y":44},{"s":"M25","x":64.93,"y":45},{"s":"M25","x":65.48,"y":38},{"s":"M25","x":66.41,"y":35},{"s":"M25","x":68.44,"y":33},{"s":"M25","x":69.92,"y":31}
],
"temps":[
{"s":"D25","x":71.4,"y":839,"t":"25°C"},{"s":"D100","x":71.4,"y":797,"t":"100°C"},{"s":"D150","x":71.09,"y":767,"t":"150°C"},{"s":"D200","x":71.4,"y":722,"t":"200°C"},{"s":"D300","x":71.4,"y":692,"t":"300°C"},{"s":"D400","x":71.4,"y":645,"t":"400°C"},{"s":"D500","x":71.4,"y":612,"t":"500°C"},{"s":"D600","x":71.4,"y":570,"t":"600°C"},{"s":"D700","x":71.4,"y":518,"t":"700°C"},
{"s":"M800","x":71.4,"y":447,"t":"800°C"},{"s":"M700","x":71.4,"y":403,"t":"700°C"},{"s":"M600","x":71.4,"y":358,"t":"600°C"},{"s":"M500","x":71.4,"y":312,"t":"500°C"},{"s":"M400","x":71.4,"y":265,"t":"400°C"},{"s":"M300","x":71.4,"y":219,"t":"300°C"},{"s":"M200","x":71.4,"y":176,"t":"200°C"},{"s":"M100","x":71.4,"y":78,"t":"100°C"},{"s":"M25","x":71.4,"y":23,"t":"25°C"}
],
"notes":[
{"t":"C;T","x":21.75,"y":1217},{"t":"Al(PO","x":14.69,"y":944},{"t":")","x":18.32,"y":944},{"t":"T","x":19.57,"y":963},{"t":"B","x":25.57,"y":929},{"t":"C","x":34.92,"y":928},{"t":"C","x":27.83,"y":886},{"t":"C","x":30.09,"y":886},
{"t":"C","x":40.85,"y":869},{"t":"C","x":43.26,"y":869},{"t":"C","x":45.68,"y":869},{"t":"C","x":48.02,"y":869},{"t":"C","x":56.28,"y":869},{"t":"C","x":63.37,"y":869},{"t":"C","x":68.13,"y":869},
{"t":"T","x":19.41,"y":520},{"t":"C","x":34.92,"y":505},
{"t":"C","x":40.85,"y":493},{"t":"C","x":43.26,"y":493},{"t":"C","x":55.03,"y":493},{"t":"C","x":63.37,"y":493},{"t":"C","x":68.13,"y":493}
],
"subs":[
{"t":"3","x":17.66,"y":936},{"t":"3","x":18.98,"y":936},{"t":"t","x":20.34,"y":955},{"t":"o","x":36.01,"y":922},{"t":"o","x":28.84,"y":878},{"t":"o","x":31.18,"y":878},
{"t":"o","x":41.94,"y":860},{"t":"o","x":44.27,"y":860},{"t":"o","x":46.61,"y":860},{"t":"o","x":48.95,"y":860},{"t":"o","x":57.29,"y":860},{"t":"o","x":64.39,"y":860},{"t":"o","x":69.14,"y":860},
{"t":"m","x":20.5,"y":512},{"t":"c","x":36.01,"y":497},
{"t":"c","x":41.94,"y":483},{"t":"c","x":44.27,"y":483},{"t":"c","x":56.12,"y":483},{"t":"c","x":64.39,"y":483},{"t":"c","x":69.14,"y":483}
],
"sides":[{"t":"Descente","x":80.29,"y":678},{"t":"Montée","x":80.29,"y":268}],
"arrows":[{"x":16.45,"y":925,"y2":901.5},{"x":25.72,"y":910,"y2":871.5},{"x":16.45,"y":561,"y2":523},{"x":25.72,"y":531,"y2":494.5}]
},
"encoding":{
"x":{"field":"x","type":"quantitative","scale":{"domain":[0,70],"nice":false,"zero":false},
"axis":{"values":[0,20,40,60],"grid":false,"title":"2θ","titleFontSize":34,"titleFontWeight":"bold","titleColor":"#000000","titleFont":"Liberation Sans","titleX":435,"titleY":96,"titleAlign":"center","titleBaseline":"alphabetic","labelFontSize":36,"labelColor":"#000000","labelFont":"Liberation Sans","labelPadding":11,"labelFlush":false,"labelOverlap":false,"labelAngle":0,"tickSize":13,"tickWidth":1.5,"tickColor":"#333333","domainColor":"#333333","domainWidth":1.5}},
"y":{"field":"y","type":"quantitative","scale":{"domain":[0,1240],"nice":false,"zero":true},"axis":null}
},
"layer":[
{"data":{"name":"curves"},"transform":[{"filter":{"field":"s","oneOf":["D700","D600","D500","D400","D300","D200","D150","D100","D25"]}}],
"mark":{"type":"line","strokeWidth":1.6,"strokeDash":[4,2]},
"encoding":{"color":{"field":"s","type":"nominal","legend":null,"scale":{"domain":["D25","D100","D150","D200","D300","D400","D500","D600","D700","M800","M700","M600","M500","M400","M300","M200","M100","M25"],"range":["#888888","#888888","#ff0000","#ff0000","#ff0000","#ff0000","#ff0000","#ff0000","#ff0000","#ff0000","#ff0000","#ff0000","#000000","#000000","#000000","#000000","#008000","#0000ff"]}}}},
{"data":{"name":"curves"},"transform":[{"filter":{"field":"s","oneOf":["M800","M700","M600","M500","M400","M300","M200"]}}],
"mark":{"type":"line","strokeWidth":1.6},
"encoding":{"color":{"field":"s","type":"nominal","legend":null,"scale":{"domain":["D25","D100","D150","D200","D300","D400","D500","D600","D700","M800","M700","M600","M500","M400","M300","M200","M100","M25"],"range":["#888888","#888888","#ff0000","#ff0000","#ff0000","#ff0000","#ff0000","#ff0000","#ff0000","#ff0000","#ff0000","#ff0000","#000000","#000000","#000000","#000000","#008000","#0000ff"]}}}},
{"data":{"name":"curves"},"transform":[{"filter":{"field":"s","oneOf":["M100","M25"]}}],
"mark":{"type":"line","strokeWidth":2.2},
"encoding":{"color":{"field":"s","type":"nominal","legend":null,"scale":{"domain":["D25","D100","D150","D200","D300","D400","D500","D600","D700","M800","M700","M600","M500","M400","M300","M200","M100","M25"],"range":["#888888","#888888","#ff0000","#ff0000","#ff0000","#ff0000","#ff0000","#ff0000","#ff0000","#ff0000","#ff0000","#ff0000","#000000","#000000","#000000","#000000","#008000","#0000ff"]}}}},
{"data":{"name":"temps"},"mark":{"type":"text","fontSize":26,"align":"left","baseline":"middle","font":"Liberation Sans"},
"encoding":{"text":{"field":"t"},"color":{"field":"s","type":"nominal","legend":null,"scale":{"domain":["D25","D100","D150","D200","D300","D400","D500","D600","D700","M800","M700","M600","M500","M400","M300","M200","M100","M25"],"range":["#888888","#888888","#ff0000","#ff0000","#ff0000","#ff0000","#ff0000","#ff0000","#ff0000","#ff0000","#ff0000","#ff0000","#000000","#000000","#000000","#000000","#008000","#0000ff"]}}}},
{"data":{"name":"notes"},"mark":{"type":"text","fontSize":23,"fontWeight":"bold","align":"center","baseline":"middle","color":"#000000","font":"Liberation Sans"},"encoding":{"text":{"field":"t"}}},
{"data":{"name":"subs"},"mark":{"type":"text","fontSize":16,"fontWeight":"bold","align":"center","baseline":"middle","color":"#000000","font":"Liberation Sans"},"encoding":{"text":{"field":"t"}}},
{"data":{"name":"sides"},"mark":{"type":"text","fontSize":28,"fontWeight":"bold","align":"center","baseline":"middle","angle":270,"color":"#000000","font":"Liberation Sans"},"encoding":{"text":{"field":"t"}}},
{"data":{"name":"arrows"},"mark":{"type":"rule","strokeWidth":2.5,"color":"#000000"},"encoding":{"y2":{"field":"y2"}}},
{"data":{"name":"arrows"},"mark":{"type":"point","shape":"triangle-down","filled":true,"size":225,"color":"#000000","opacity":1},
"encoding":{"y":{"field":"y2","type":"quantitative","scale":{"domain":[0,1240],"nice":false,"zero":true},"axis":null}}}
]
}
